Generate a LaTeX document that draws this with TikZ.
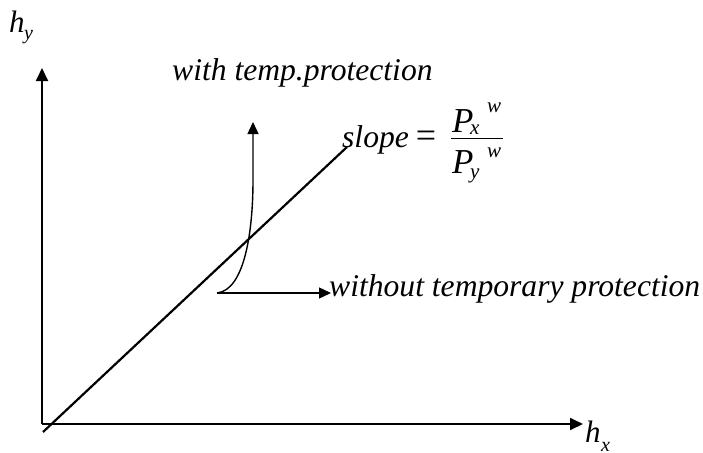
\documentclass[tikz,border=0pt]{standalone}
\usepackage{fontspec}
\setmainfont{Liberation Serif}
\newfontfamily\plainserif{Liberation Serif}
\usetikzlibrary{arrows.meta}
\begin{document}
\begin{tikzpicture}[x=1pt,y=-1pt,
  axis/.style={line width=1.8pt,-{Triangle[length=13pt,width=12pt]}},
  arr/.style={line width=1.4pt,-{Triangle[length=12pt,width=11pt]}},
  lbl/.style={font=\fontsize{31.6}{34}\selectfont\itshape,inner sep=0pt,anchor=base west},
  axl/.style={font=\plainserif\fontsize{31}{33}\selectfont\itshape,inner sep=0pt,anchor=base west},
  sub/.style={font=\plainserif\fontsize{20}{22}\selectfont\itshape,inner sep=0pt,anchor=base west},
  bigP/.style={font=\plainserif\fontsize{35}{38}\selectfont\itshape,inner sep=0pt,anchor=base west},
  fsub/.style={font=\plainserif\fontsize{21}{23}\selectfont\itshape,inner sep=0pt,anchor=base west}]
\useasboundingbox (0,0) rectangle (703,452);
\coordinate (O) at (42,424);
\coordinate (ytip) at (42,68);
\coordinate (xtip) at (583,424);
\coordinate (d0) at (43,432);
\coordinate (d1) at (347,147);
\coordinate (c0) at (217,293);
\coordinate (c1) at (253,180);
\coordinate (ctip) at (253,122);
\coordinate (htip) at (331,293);
\draw[axis] (O) -- (ytip);
\draw[axis] (O) -- (xtip);
\draw[line width=2.2pt] (d0) -- (d1);
\draw[arr] (c0) .. controls (245,290) and (253,230) .. (c1) -- (ctip);
\draw[arr] (c0) -- (htip);
% axis labels
\node[axl] (hy) at (9,33) {h};
\node[sub] (hysub) at (24,40) {y};
\node[axl] (hx) at (585,442) {h};
\node[sub] (hxsub) at (601,451) {x};
% texts
\node[lbl] (wt) at (172,80) {with temp.protection};
\node[lbl] (wo) at (329,296) {without temporary protection};
\node[lbl] (sl) at (342,147) {slope\hspace{7pt}{\fontsize{36}{36}\selectfont\upshape =}};
% fraction
\node[bigP] (nP) at (452,132) {P};
\node[fsub] (nx) at (470,134) {x};
\node[fsub] (nw) at (487,112) {w};
\coordinate (b0) at (451,138);
\coordinate (b1) at (503,138);
\draw[line width=1pt] (b0) -- (b1);
\node[bigP] (dP) at (452,173) {P};
\node[fsub] (dy) at (470,178) {y};
\node[fsub] (dw) at (487,157) {w};
\end{tikzpicture}
\end{document}
